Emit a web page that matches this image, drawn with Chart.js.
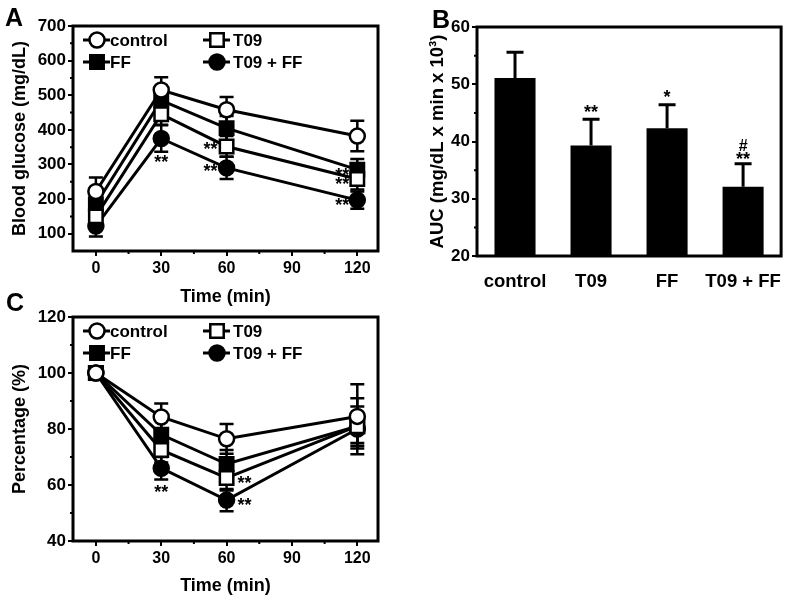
<!DOCTYPE html>
<html>
<head>
<meta charset="utf-8">
<script src="https://cdn.jsdelivr.net/npm/chart.js@4.4.0/dist/chart.umd.min.js"></script>
<style>
  body { margin: 0; background: #fff; }
  #figure { position: relative; width: 797px; height: 601px; overflow: hidden; font-family: "Liberation Sans", Arial, sans-serif; }
  .panel { position: absolute; }
  .letter { position: absolute; font-weight: bold; font-size: 25px; line-height: 1; color: #000; }
</style>
</head>
<body>
<div id="figure">
  <canvas id="chartA" class="panel" width="400" height="310" style="left:0;top:0"></canvas>
  <canvas id="chartB" class="panel" width="397" height="300" style="left:400px;top:0"></canvas>
  <canvas id="chartC" class="panel" width="400" height="301" style="left:0;top:300px"></canvas>
  <div class="letter" style="left:5px;top:5px">A</div>
  <div class="letter" style="left:432px;top:7px">B</div>
  <div class="letter" style="left:6px;top:290px">C</div>
</div>
<script>
// time points and tick labels
const timePoints = [0, 30, 60, 120];
const timeTicks = [0, 30, 60, 90, 120];
const groupNames = ["control", "T09", "FF", "T09 + FF"];

// A: blood glucose (mg/dL), mean and error
const glucoseControl = [222, 515, 458, 382];
const glucoseControlErr = [40, 37, 37, 44];
const glucoseT09 = [150, 445, 352, 258];
const glucoseT09Err = [28, 30, 30, 30];
const glucoseFF = [185, 485, 405, 285];
const glucoseFFErr = [30, 35, 35, 31];
const glucoseCombo = [122, 375, 290, 197];
const glucoseComboErr = [30, 38, 32, 25];
const glucoseTicks = [100, 200, 300, 400, 500, 600, 700];

// B: AUC (mg/dL x min x 10^3)
const aucValues = [51.1, 39.3, 42.3, 32.1];
const aucErr = [4.5, 4.6, 4.1, 4.0];
const aucTicks = [20, 30, 40, 50, 60];

// C: percentage of baseline
const pctControl = [100, 84.3, 76.5, 84.5];
const pctControlErr = [0, 4.8, 5.3, 11.5];
const pctT09 = [100, 72.5, 62.5, 81];
const pctT09Err = [0, 4.5, 4.5, 7];
const pctFF = [100, 78, 67.5, 81];
const pctFFErr = [0, 5, 5, 10];
const pctCombo = [100, 66, 54.6, 80];
const pctComboErr = [0, 4, 4, 5];
const pctTicks = [40, 60, 80, 100, 120];

const FONT = '"Liberation Sans", Arial, sans-serif';
const xTickFont = { family: FONT, size: 16, weight: "bold" };
const yTickFont = { family: FONT, size: 17, weight: "bold" };
const titleFont = { family: FONT, size: 18, weight: "bold" };

function toPoints(values) {
  return values.map((y, i) => ({ x: timePoints[i], y: y }));
}

function valueOf(raw) {
  return typeof raw === "object" ? raw.y : raw;
}

// error bars (drawn under the markers)
const errorBars = {
  id: "errorBars",
  beforeDatasetsDraw(chart, args, opts) {
    const ctx = chart.ctx;
    const yScale = chart.scales.y;
    ctx.save();
    ctx.strokeStyle = "#000";
    ctx.lineWidth = opts.lineWidth || 2.5;
    chart.data.datasets.forEach((ds, i) => {
      if (!ds.errors) return;
      const meta = chart.getDatasetMeta(i);
      meta.data.forEach((el, j) => {
        const err = ds.errors[j];
        if (!err) return;
        const v = valueOf(ds.data[j]);
        const yTop = yScale.getPixelForValue(v + err);
        const yBot = yScale.getPixelForValue(opts.upOnly ? v : v - err);
        const half = opts.capWidth / 2;
        ctx.beginPath();
        ctx.moveTo(el.x, yTop);
        ctx.lineTo(el.x, yBot);
        ctx.moveTo(el.x - half, yTop);
        ctx.lineTo(el.x + half, yTop);
        if (!opts.upOnly) {
          ctx.moveTo(el.x - half, yBot);
          ctx.lineTo(el.x + half, yBot);
        }
        ctx.stroke();
      });
    });
    ctx.restore();
  },
};

// closed frame around the plot area
const frame = {
  id: "frame",
  afterDraw(chart) {
    const { ctx, chartArea } = chart;
    ctx.save();
    ctx.strokeStyle = "#000";
    ctx.lineWidth = 3;
    ctx.strokeRect(chartArea.left, chartArea.top, chartArea.right - chartArea.left, chartArea.bottom - chartArea.top);
    ctx.restore();
  },
};

// short minor ticks pointing outwards
const minorTicks = {
  id: "minorTicks",
  afterDraw(chart, args, opts) {
    const { ctx, chartArea, scales } = chart;
    ctx.save();
    ctx.strokeStyle = "#000";
    ctx.lineWidth = 2;
    ctx.beginPath();
    (opts.x || []).forEach((v) => {
      const px = scales.x.getPixelForValue(v);
      ctx.moveTo(px, chartArea.bottom);
      ctx.lineTo(px, chartArea.bottom + 3);
    });
    (opts.y || []).forEach((v) => {
      const py = scales.y.getPixelForValue(v);
      ctx.moveTo(chartArea.left, py);
      ctx.lineTo(chartArea.left - 3, py);
    });
    ctx.stroke();
    ctx.restore();
  },
};

function drawMarker(ctx, ds, x, y) {
  const r = ds.pointRadius;
  ctx.beginPath();
  if (ds.pointStyle === "rect") {
    const s = r * Math.SQRT1_2;
    ctx.rect(x - s, y - s, 2 * s, 2 * s);
  } else {
    ctx.arc(x, y, r, 0, Math.PI * 2);
  }
  ctx.fillStyle = ds.pointBackgroundColor;
  ctx.fill();
  ctx.lineWidth = ds.pointBorderWidth;
  ctx.strokeStyle = "#000";
  ctx.stroke();
}

// legend inside the plot, two columns
const insideLegend = {
  id: "insideLegend",
  afterDraw(chart, args, opts) {
    const { ctx, chartArea } = chart;
    ctx.save();
    ctx.font = "bold 17px " + FONT;
    ctx.textBaseline = "middle";
    ctx.textAlign = "left";
    chart.data.datasets.forEach((ds, i) => {
      const col = i % 2;
      const row = Math.floor(i / 2);
      const mx = chartArea.left + opts.markerX[col];
      const my = chartArea.top + opts.rowY[row];
      ctx.strokeStyle = "#000";
      ctx.lineWidth = 3;
      ctx.beginPath();
      ctx.moveTo(mx - 14, my);
      ctx.lineTo(mx + 13, my);
      ctx.stroke();
      drawMarker(ctx, ds, mx, my);
      ctx.fillStyle = "#000";
      ctx.fillText(ds.label, chartArea.left + opts.textX[col], my + 1);
    });
    ctx.restore();
  },
};

// significance marks next to the points
const sigMarks = {
  id: "sigMarks",
  afterDraw(chart, args, opts) {
    const ctx = chart.ctx;
    const yScale = chart.scales.y;
    ctx.save();
    ctx.fillStyle = "#000";
    ctx.textAlign = "center";
    ctx.textBaseline = "middle";
    (opts.items || []).forEach((m) => {
      const ds = chart.data.datasets[m.ds];
      const el = chart.getDatasetMeta(m.ds).data[m.i];
      let v = valueOf(ds.data[m.i]);
      if (m.fromCap) v += ds.errors[m.i];
      ctx.font = "bold " + (m.size || 18) + "px " + FONT;
      ctx.fillText(m.text, el.x + m.dx, yScale.getPixelForValue(v) + m.dy);
    });
    ctx.restore();
  },
};

function lineDataset(label, values, errors, style, filled) {
  return {
    label: label,
    data: toPoints(values),
    errors: errors,
    borderColor: "#000",
    borderWidth: 3,
    pointStyle: style,
    pointRadius: style === "rect" ? 9.5 : 7.5,
    pointBackgroundColor: filled ? "#000" : "#fff",
    pointBorderColor: "#000",
    pointBorderWidth: 2.5,
    tension: 0,
  };
}

function timeScale(height, titleBottom) {
  return {
    type: "linear",
    min: -10.5,
    max: 129.5,
    afterBuildTicks: (s) => { s.ticks = timeTicks.map((v) => ({ value: v })); },
    afterFit: (s) => { s.height = height; },
    border: { display: false },
    grid: { drawOnChartArea: false, drawTicks: true, tickLength: 5, color: "#000", lineWidth: 2 },
    ticks: { color: "#000", font: xTickFont, padding: 3, maxRotation: 0, autoSkip: false },
    title: { display: true, text: "Time (min)", color: "#000", font: titleFont, padding: { top: 0, bottom: titleBottom } },
  };
}

function valueScale(min, max, tickList, width, title, titleTop, font) {
  return {
    min: min,
    max: max,
    afterBuildTicks: (s) => { s.ticks = tickList.map((v) => ({ value: v })); },
    afterFit: (s) => { s.width = width; },
    border: { display: false },
    grid: { drawOnChartArea: false, drawTicks: true, tickLength: 5, color: "#000", lineWidth: 2 },
    ticks: { color: "#000", font: yTickFont, padding: 2 },
    title: { display: true, text: title, color: "#000", font: font || titleFont, padding: { top: titleTop, bottom: 0 } },
  };
}

const legendOpts = { markerX: [24, 144], textX: [37, 160], rowY: [14, 36] };

// Panel A
new Chart(document.getElementById("chartA"), {
  type: "line",
  data: {
    datasets: [
      lineDataset(groupNames[0], glucoseControl, glucoseControlErr, "circle", false),
      lineDataset(groupNames[1], glucoseT09, glucoseT09Err, "rect", false),
      lineDataset(groupNames[2], glucoseFF, glucoseFFErr, "rect", true),
      lineDataset(groupNames[3], glucoseCombo, glucoseComboErr, "circle", true),
    ],
  },
  options: {
    responsive: false,
    animation: false,
    events: [],
    layout: { padding: { top: 26, right: 22, left: 0, bottom: 0 } },
    scales: {
      x: timeScale(59, 2),
      y: valueScale(50, 700, glucoseTicks, 73, "Blood glucose (mg/dL)", 9),
    },
    plugins: {
      legend: { display: false },
      tooltip: { enabled: false },
      errorBars: { capWidth: 14, lineWidth: 2.5 },
      minorTicks: { x: [15, 45, 75, 105], y: [150, 250, 350, 450, 550, 650] },
      insideLegend: legendOpts,
      sigMarks: {
        items: [
          { ds: 3, i: 1, text: "**", dx: 0, dy: 25 },
          { ds: 1, i: 2, text: "**", dx: -16, dy: 4 },
          { ds: 3, i: 2, text: "**", dx: -16, dy: 4 },
          { ds: 2, i: 3, text: "**", dx: -15, dy: 6 },
          { ds: 1, i: 3, text: "**", dx: -15, dy: 6 },
          { ds: 3, i: 3, text: "**", dx: -15, dy: 6 },
        ],
      },
    },
  },
  plugins: [errorBars, frame, minorTicks, insideLegend, sigMarks],
});

// Panel B
new Chart(document.getElementById("chartB"), {
  type: "bar",
  data: {
    labels: groupNames,
    datasets: [
      {
        data: aucValues,
        errors: aucErr,
        backgroundColor: "#000",
        barPercentage: 0.54,
        categoryPercentage: 1,
      },
    ],
  },
  options: {
    responsive: false,
    animation: false,
    events: [],
    layout: { padding: { top: 27, right: 9, left: 0, bottom: 0 } },
    scales: {
      x: {
        afterFit: (s) => { s.height = 44; },
        border: { display: false },
        grid: { display: false, drawTicks: false },
        ticks: { color: "#000", font: { family: FONT, size: 18.5, weight: "bold" }, padding: 15, maxRotation: 0, autoSkip: false },
      },
      y: valueScale(20, 60, aucTicks, 77, "AUC (mg/dL x min x 10³)", 27, { family: FONT, size: 18.5, weight: "bold" }),
    },
    plugins: {
      legend: { display: false },
      tooltip: { enabled: false },
      errorBars: { capWidth: 17, lineWidth: 3, upOnly: true },
      minorTicks: { y: [25, 35, 45, 55] },
      sigMarks: {
        items: [
          { ds: 0, i: 1, text: "**", dx: 0, dy: -6, fromCap: true },
          { ds: 0, i: 2, text: "*", dx: 0, dy: -7, fromCap: true },
          { ds: 0, i: 3, text: "**", dx: 0, dy: -4, fromCap: true },
          { ds: 0, i: 3, text: "#", dx: 0, dy: -17, fromCap: true, size: 16 },
        ],
      },
    },
  },
  plugins: [errorBars, frame, minorTicks, sigMarks],
});

// Panel C
new Chart(document.getElementById("chartC"), {
  type: "line",
  data: {
    datasets: [
      lineDataset(groupNames[0], pctControl, pctControlErr, "circle", false),
      lineDataset(groupNames[1], pctT09, pctT09Err, "rect", false),
      lineDataset(groupNames[2], pctFF, pctFFErr, "rect", true),
      lineDataset(groupNames[3], pctCombo, pctComboErr, "circle", true),
    ],
  },
  options: {
    responsive: false,
    animation: false,
    events: [],
    layout: { padding: { top: 17, right: 22, left: 0, bottom: 0 } },
    scales: {
      x: timeScale(60, 4),
      y: valueScale(40, 120, pctTicks, 73, "Percentage (%)", 9),
    },
    plugins: {
      legend: { display: false },
      tooltip: { enabled: false },
      errorBars: { capWidth: 14, lineWidth: 2.5 },
      minorTicks: { x: [15, 45, 75, 105], y: [50, 70, 90, 110] },
      insideLegend: legendOpts,
      sigMarks: {
        items: [
          { ds: 3, i: 1, text: "**", dx: 0, dy: 25 },
          { ds: 1, i: 2, text: "**", dx: 18, dy: 6 },
          { ds: 3, i: 2, text: "**", dx: 18, dy: 6 },
        ],
      },
    },
  },
  plugins: [errorBars, frame, minorTicks, insideLegend, sigMarks],
});
</script>
</body>
</html>
